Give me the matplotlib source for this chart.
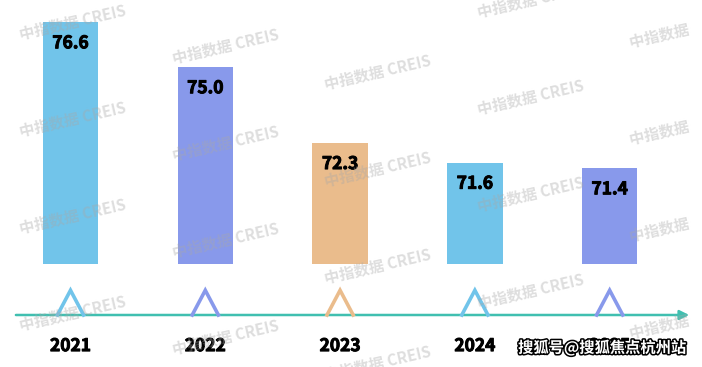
import matplotlib.pyplot as plt
import matplotlib.patheffects as pe

plt.rcParams['font.family'] = ['Noto Sans CJK SC', 'DejaVu Sans']

# chart data
years = ['2021', '2022', '2023', '2024', '2025']
values = [76.6, 75.0, 72.3, 71.6, 71.4]
bar_colors = ['#71c4ea', '#8899eb', '#eabc8c', '#71c4ea', '#8899eb']
watermark = '中指数据 CREIS'
footer = '搜狐号@搜狐焦点杭州站'

fig = plt.figure(figsize=(7.02, 3.67), dpi=100)
ax = fig.add_axes([0, 0, 1, 1])
ax.set_xlim(-0.523, 4.685)
ax.set_ylim(64.33, 77.40)
ax.axis('off')

x = list(range(len(years)))
base = 68.0
ax.bar(x, [v - base for v in values], bottom=base, width=0.41, color=bar_colors, zorder=2)

# a thin outline makes the labels as heavy as the original font
heavy = [pe.withStroke(linewidth=0.7, foreground='black')]

# value labels inside the top of each bar
for i, v in enumerate(values):
    ax.annotate(f'{v:.1f}', xy=(i, v), xytext=(0, -15), textcoords='offset points',
                ha='center', va='center', fontsize=12.5, fontweight='bold', color='black',
                path_effects=heavy, zorder=4)

# timeline with arrow
trans = ax.get_xaxis_transform()
line_y = 0.1417
ax.annotate('', xy=(4.59, line_y), xytext=(-0.405, line_y), xycoords=trans, textcoords=trans,
            arrowprops=dict(arrowstyle='-|>', color='#40bfb0', lw=1.8, mutation_scale=14,
                            shrinkA=0, shrinkB=0), zorder=3)

# open triangle markers and year labels
for i, yr in enumerate(years):
    ax.plot([i - 0.097, i, i + 0.097], [line_y, 0.209, line_y], transform=trans,
            color=bar_colors[i], lw=2.6, solid_joinstyle='miter', zorder=3)
    ax.text(i, 0.057, yr, transform=trans, ha='center', va='center',
            fontsize=12.5, fontweight='bold', color='black', path_effects=heavy, zorder=4)

# background watermark tiles, clipped a little before the right edge
wm_ax = fig.add_axes([0, 0, 692 / 702, 1])
wm_ax.set_xlim(0, 692)
wm_ax.set_ylim(367, 0)
wm_ax.axis('off')
wm_ax.patch.set_visible(False)
for c in range(5):
    cx = 73 + 152.5 * c
    y0 = [22, 46, 72, 0, 30][c]
    for k in range(5):
        cy = y0 + 97 * k
        if cy > 390:
            continue
        wm_ax.text(cx, cy, watermark, ha='center', va='center', rotation=13,
                   fontsize=11, fontweight='bold', color='#a8a8a8', alpha=0.38,
                   clip_on=True, zorder=5)

# source footer
fig.text(602 / 702, 1 - 348 / 367, footer, ha='center', va='center', fontsize=11,
         fontweight='bold', color='white', zorder=6,
         path_effects=[pe.withStroke(linewidth=2.2, foreground='black')])

fig.savefig('out.png', dpi=100)
